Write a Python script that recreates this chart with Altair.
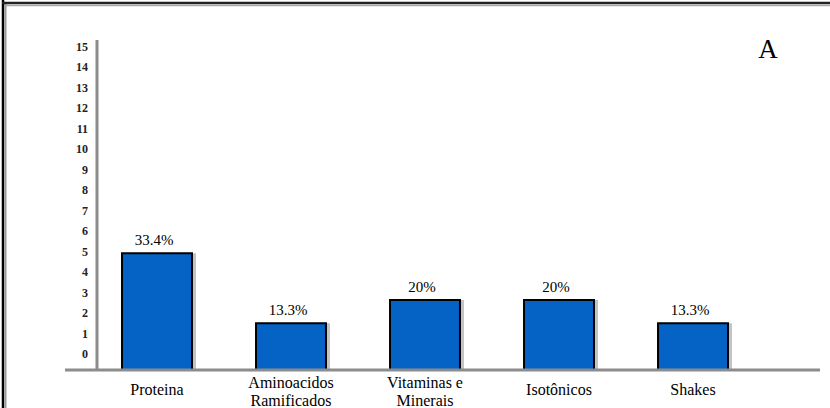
import altair as alt
import pandas as pd

# ---- data ----
categories = ["Proteina", "Aminoacidos\nRamificados", "Vitaminas e\nMinerais", "Isotônicos", "Shakes"]
counts = [5, 2, 3, 3, 2]
pct_labels = ["33.4%", "13.3%", "20%", "20%", "13.3%"]
y_tick_values = list(range(0, 16))
panel_letter = "A"

df = pd.DataFrame({"cat": categories, "n": counts, "pct": pct_labels})
ticks_df = pd.DataFrame({"v": y_tick_values, "lab": [str(v) for v in y_tick_values]})

W, H = 723, 350
SERIF = "Liberation Serif, Times New Roman, serif"
GRAY = "#8c8c8c"

x_enc = alt.X(
    "cat:N",
    sort=categories,
    scale=alt.Scale(range=[-7, 663], paddingInner=0.478, paddingOuter=0.239),
    axis=alt.Axis(
        title=None, domain=False, ticks=False, tickSize=0, labelAngle=0,
        labelFont=SERIF, labelFontSize=16, labelColor="black",
        labelPadding={"condition": {"test": "indexof(datum.value, '\\n') < 0", "value": 19}, "value": 12},
        labelBaseline="middle", labelLineHeight=18,
        labelLimit=300, labelOverlap=False,
        labelExpr="split(datum.label, '\\n')",
    ),
)
y_enc = alt.Y("n:Q", scale=alt.Scale(domain=[0, 15], nice=False), axis=None)

base = alt.Chart(df)

shadow = base.mark_bar(color="#c4c4c4", xOffset=4).encode(x=x_enc, y=y_enc)
bars = base.mark_bar(color="#0563C6", stroke="black", strokeWidth=2).encode(x=x_enc, y=y_enc)
pct_text = base.mark_text(font=SERIF, fontSize=15, color="black", dy=-13, dx=-3).encode(
    x=x_enc, y=y_enc, text="pct:N"
)

tick_labels = alt.Chart(ticks_df).mark_text(
    font=SERIF, fontSize=12, fontWeight="bold", color="#222222", align="right", baseline="middle"
).encode(
    x=alt.value(-9),
    y=alt.Y("v:Q", scale=alt.Scale(domain=[-0.78, 16.32], nice=False, zero=False), axis=None),
    text="lab:N",
)

one = alt.Data(values=[{"k": 1}])


def rule(x, x2, y, y2, color, width):
    return alt.Chart(one).mark_rule(color=color, strokeWidth=width).encode(
        x=alt.value(x), x2=alt.value(x2), y=alt.value(y), y2=alt.value(y2)
    )


y_axis_line = rule(0, 0, 20, 351, GRAY, 3)
baseline = rule(-32, 723, 350, 350, GRAY, 3)
border_left = rule(-94, -94, -20, 388, "black", 2.5)
border_left2 = rule(-91.5, -91.5, -16, 388, "#9a9a9a", 2)
border_top = rule(-95, 733, -17, -17, "#222222", 2.5)
border_top2 = rule(-92, 733, -14.5, -14.5, "#a8a8a8", 1.5)

letter = alt.Chart(one).mark_text(font=SERIF, fontSize=27, color="black").encode(
    x=alt.value(671), y=alt.value(30), text=alt.value(panel_letter)
)

chart = alt.layer(
    shadow, bars, pct_text, tick_labels,
    y_axis_line, baseline, border_left, border_left2, border_top, border_top2, letter,
).resolve_scale(y="independent").properties(
    width=W, height=H,
    padding={"left": 97, "top": 20, "right": 10, "bottom": 38},
    autosize=alt.AutoSizeParams(type="none"),
    background="white",
).configure_view(stroke=None, strokeWidth=0)

chart.save("out.html", embed_options={"renderer": "svg", "actions": False})
